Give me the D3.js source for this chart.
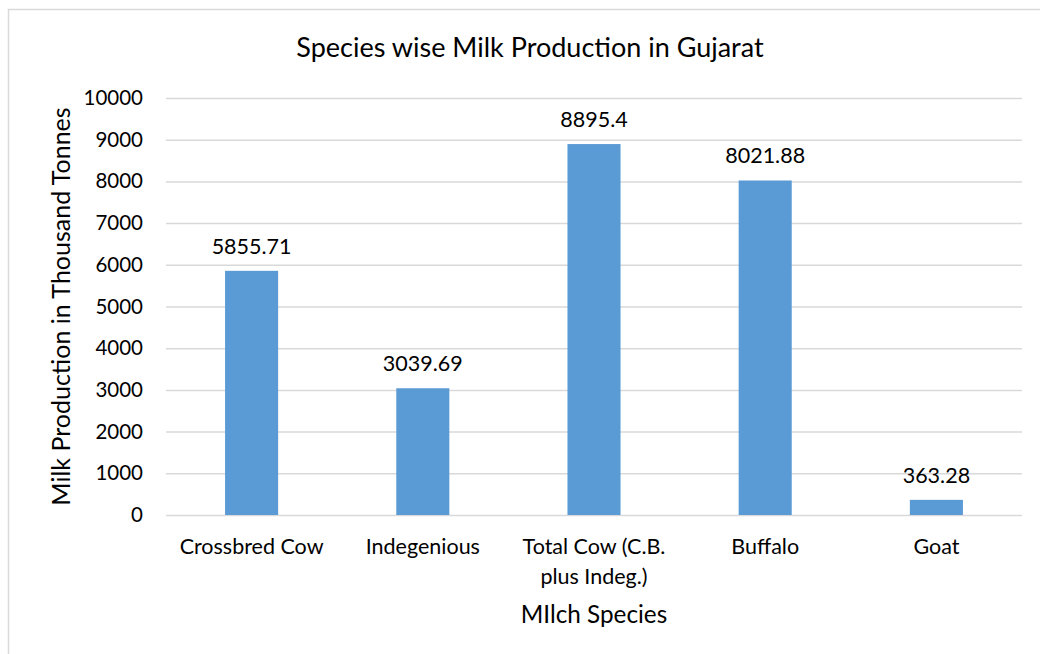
<!DOCTYPE html>
<html>
<head>
<meta charset="utf-8">
<script src="https://cdn.jsdelivr.net/npm/d3@7"></script>
<style>
  html, body { margin: 0; padding: 0; background: #fff; }
  svg { display: block; font-family: "Lato", "Open Sans", sans-serif; }
</style>
</head>
<body>
<svg id="chart" width="1040" height="654"></svg>
<script>
// Milk production by milch species, Gujarat (thousand tonnes)
const categories = ["Crossbred Cow", "Indegenious", "Total Cow (C.B. plus Indeg.)", "Buffalo", "Goat"];
const production = [5855.71, 3039.69, 8895.4, 8021.88, 363.28];
const yTicks = [0, 1000, 2000, 3000, 4000, 5000, 6000, 7000, 8000, 9000, 10000];

const titleText = "Species wise Milk Production in Gujarat";
const xTitleText = "MIlch Species";
const yTitleText = "Milk Production in Thousand Tonnes";

const svg = d3.select("#chart");
const W = 1040, H = 654;
const margin = { left: 166, right: 18, top: 98, bottom: 139 };
const plotW = W - margin.left - margin.right;
const plotH = H - margin.top - margin.bottom;
const labelSize = 21.5;

// Outer chart frame
svg.append("rect")
  .attr("x", 8.5).attr("y", 9.5)
  .attr("width", W + 10).attr("height", H + 10)
  .attr("fill", "#fff").attr("stroke", "#d9d9d9").attr("stroke-width", 1.5);

const g = svg.append("g").attr("transform", `translate(${margin.left},${margin.top})`);

const x = d3.scaleBand().domain(categories).range([0, plotW]).paddingInner(0.69).paddingOuter(0.345);
const y = d3.scaleLinear().domain([0, 10000]).range([plotH, 0]);

// Horizontal gridlines
g.append("g")
  .call(d3.axisLeft(y).tickValues(yTicks).tickSize(-plotW).tickFormat(""))
  .call(s => s.select(".domain").remove())
  .call(s => s.selectAll("line").attr("stroke", "#d9d9d9").attr("stroke-width", 1.5));

// Y axis tick labels
g.append("g")
  .call(d3.axisLeft(y).tickValues(yTicks).tickSize(0).tickPadding(23).tickFormat(d3.format("d")))
  .call(s => s.select(".domain").remove())
  .call(s => s.selectAll("text").attr("font-family", "Lato, 'Open Sans', sans-serif")
    .attr("font-size", 20.5).attr("fill", "#000"));

// Bars
g.selectAll("rect.bar").data(categories).join("rect")
  .attr("class", "bar")
  .attr("x", d => x(d))
  .attr("width", x.bandwidth())
  .attr("y", (d, i) => y(production[i]))
  .attr("height", (d, i) => y(0) - y(production[i]))
  .attr("fill", "#5b9bd5");

// Value labels
g.selectAll("text.val").data(categories).join("text")
  .attr("class", "val")
  .attr("x", d => x(d) + x.bandwidth() / 2)
  .attr("y", (d, i) => y(production[i]) - 17)
  .attr("text-anchor", "middle")
  .attr("font-size", labelSize)
  .attr("fill", "#000")
  .text((d, i) => String(production[i]));

// X axis with word-wrapped category labels
const xAxis = g.append("g").attr("transform", `translate(0,${plotH})`)
  .call(d3.axisBottom(x).tickSize(0).tickPadding(0))
  .call(s => s.select(".domain").remove());

xAxis.selectAll(".tick text").each(function(d) {
  const t = d3.select(this);
  t.text(null).attr("font-family", "Lato, 'Open Sans', sans-serif")
    .attr("font-size", labelSize).attr("fill", "#000").attr("dy", null).attr("y", 0);
  const words = d.split(" ");
  const maxW = x.step() - 6;
  let lines = [], line = [];
  const probe = t.append("tspan");
  words.forEach(w => {
    const trial = line.concat(w).join(" ");
    probe.text(trial);
    if (probe.node().getComputedTextLength() > maxW && line.length) {
      lines.push(line.join(" "));
      line = [w];
    } else {
      line.push(w);
    }
  });
  lines.push(line.join(" "));
  probe.remove();
  lines.forEach((l, i) => {
    t.append("tspan").attr("x", 0).attr("y", 39 + i * 30).text(l);
  });
});

// Chart title
svg.append("text")
  .attr("x", 530).attr("y", 57)
  .attr("text-anchor", "middle")
  .attr("font-size", 27).attr("fill", "#000")
  .text(titleText);

// Axis titles
svg.append("text")
  .attr("x", margin.left + plotW / 2).attr("y", 623)
  .attr("text-anchor", "middle")
  .attr("font-size", 24.3).attr("fill", "#000")
  .text(xTitleText);

svg.append("text")
  .attr("transform", `translate(70,${margin.top + plotH / 2}) rotate(-90)`)
  .attr("text-anchor", "middle")
  .attr("font-size", 25).attr("fill", "#000")
  .text(yTitleText);
</script>
</body>
</html>
